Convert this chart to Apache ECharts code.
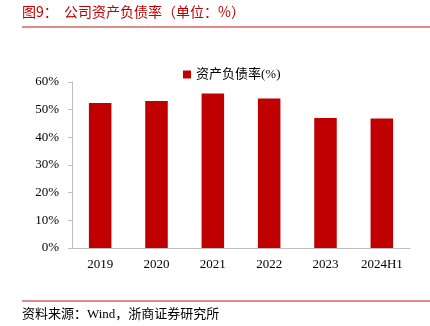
<!DOCTYPE html>
<html>
<head>
<meta charset="utf-8">
<script src="https://cdn.jsdelivr.net/npm/echarts@6/dist/echarts.min.js"></script>
<style>html,body{margin:0;padding:0;background:#fff;}#c{width:430px;height:326px;}</style>
</head>
<body>
<div id="c"></div>
<script>
var categories = ['2019', '2020', '2021', '2022', '2023', '2024H1'];
var debtRatio = [52.4, 53.1, 55.8, 54.0, 47.0, 46.8];
var yTicks = [0, 10, 20, 30, 40, 50, 60];
var seriesName = '资产负债率(%)';
var titleText = '图9：  公司资产负债率（单位：%）';
var sourceText = '资料来源：Wind，浙商证券研究所';

var serif = "'Liberation Serif','Noto Sans CJK SC',serif";
var chart = echarts.init(document.getElementById('c'));
chart.setOption({
  animation: false,
  backgroundColor: '#fff',
  grid: {left: 72, right: 20, top: 82, bottom: 78},
  legend: {
    data: [seriesName],
    left: 178, top: 63,
    itemWidth: 8, itemHeight: 8, itemGap: 4,
    icon: 'rect',
    textStyle: {fontFamily: serif, fontSize: 13, color: '#000'}
  },
  xAxis: {
    type: 'category',
    data: categories,
    axisLine: {lineStyle: {color: '#bfbfbf', width: 1}},
    axisTick: {show: false},
    axisLabel: {fontFamily: serif, fontSize: 13, color: '#000', margin: 10}
  },
  yAxis: {
    type: 'value',
    min: yTicks[0], max: yTicks[yTicks.length - 1], interval: 10,
    splitLine: {show: false},
    axisLine: {show: true, lineStyle: {color: '#bfbfbf', width: 1}},
    axisTick: {show: true, length: 4, lineStyle: {color: '#bfbfbf'}},
    axisLabel: {fontFamily: serif, fontSize: 13, color: '#000', margin: 13, formatter: '{value}%'}
  },
  series: [{
    name: seriesName,
    type: 'bar',
    data: debtRatio,
    barWidth: '40%',
    itemStyle: {color: '#c00000'}
  }],
  graphic: [
    {type: 'text', left: 22, top: 5, style: {text: titleText, font: "14px 'Noto Sans CJK SC'", fill: '#c00000'}},
    {type: 'line', shape: {x1: 22, y1: 27, x2: 430, y2: 27}, style: {stroke: '#e08a8a', lineWidth: 2}},
    {type: 'line', shape: {x1: 22, y1: 301, x2: 430, y2: 301}, style: {stroke: '#e08a8a', lineWidth: 2}},
    {type: 'text', left: 22, top: 308, style: {text: sourceText, font: "13px 'Liberation Serif','Noto Sans CJK SC'", fill: '#000'}}
  ]
});
</script>
</body>
</html>
